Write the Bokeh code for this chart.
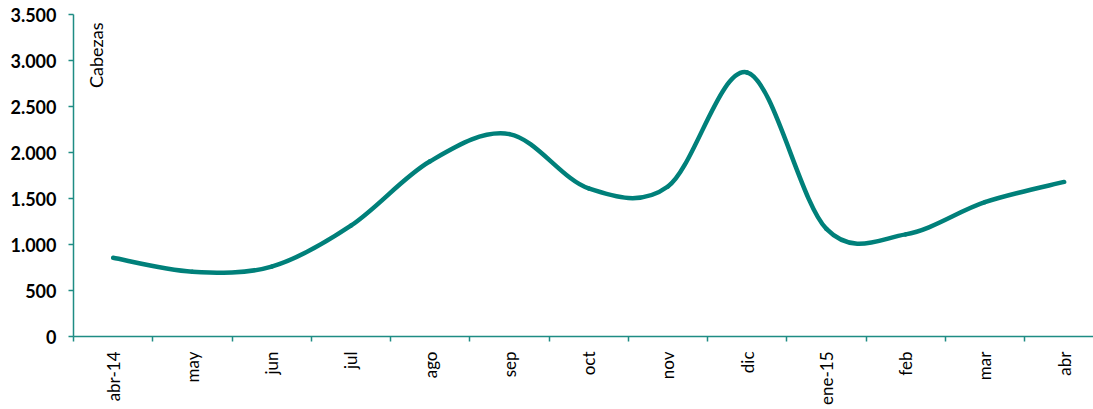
import numpy as np
from bokeh.plotting import figure
from bokeh.models import FixedTicker, Range1d, Label
from bokeh.embed import file_html
from bokeh.resources import INLINE

months = ["abr-14", "may", "jun", "jul", "ago", "sep", "oct", "nov", "dic",
          "ene-15", "feb", "mar", "abr"]
cabezas = [855, 705, 760, 1205, 1905, 2200, 1610, 1630, 2870, 1170, 1110, 1460, 1680]
y_ticks = [0, 500, 1000, 1500, 2000, 2500, 3000, 3500]

TEAL = "#00807A"
AXIS = "#1E8C84"
FONT = "Lato"

p = figure(width=1093, height=409, output_backend="svg", toolbar_location=None,
           x_range=Range1d(-0.5, 12.37), y_range=Range1d(0, 3500),
           min_border_left=73, min_border_right=0, min_border_top=14, min_border_bottom=73)
p.outline_line_color = None
p.xgrid.visible = False
p.ygrid.visible = False

# smooth curve (Catmull-Rom as cubic Bezier through the data points)
xs = np.arange(len(months), dtype=float)
ys = np.array(cabezas, dtype=float)
px = np.concatenate([[xs[0]], xs, [xs[-1]]])
py = np.concatenate([[ys[0]], ys, [ys[-1]]])
n = len(xs) - 1
x0 = xs[:-1]; y0 = ys[:-1]; x1 = xs[1:]; y1 = ys[1:]
cx0 = px[1:n+1] + (px[2:n+2] - px[0:n]) / 6
cy0 = py[1:n+1] + (py[2:n+2] - py[0:n]) / 6
cx1 = px[2:n+2] - (px[3:n+3] - px[1:n+1]) / 6
cy1 = py[2:n+2] - (py[3:n+3] - py[1:n+1]) / 6
p.bezier(x0=x0, y0=y0, x1=x1, y1=y1, cx0=cx0, cy0=cy0, cx1=cx1, cy1=cy1,
         line_color=TEAL, line_width=4.5, line_cap="round")

# x axis
xa = p.xaxis[0]
xa.ticker = FixedTicker(ticks=list(range(len(months))),
                        minor_ticks=[i - 0.5 for i in range(len(months) + 1)])
xa.major_label_overrides = {i: m for i, m in enumerate(months)}
xa.major_label_orientation = np.pi / 2
xa.major_tick_out = 0
xa.major_tick_in = 0
xa.minor_tick_out = 5
xa.minor_tick_in = 0
xa.minor_tick_line_color = AXIS
xa.minor_tick_line_width = 1.5
xa.axis_line_color = AXIS
xa.axis_line_width = 1.5
xa.major_label_text_font = FONT
xa.major_label_text_font_size = "17px"
xa.major_label_text_color = "#000000"
xa.major_label_standoff = 10

# y axis
ya = p.yaxis[0]
ya.ticker = FixedTicker(ticks=y_ticks)
ya.major_label_overrides = {t: f"{t:,}".replace(",", ".") for t in y_ticks}
ya.major_tick_out = 5
ya.major_tick_in = 0
ya.minor_tick_line_color = None
ya.major_tick_line_color = AXIS
ya.major_tick_line_width = 1.5
ya.axis_line_color = AXIS
ya.axis_line_width = 1.5
ya.major_label_text_font = FONT
ya.major_label_text_font_size = "18px"
ya.major_label_text_font_style = "bold"
ya.major_label_text_color = "#000000"
ya.major_label_standoff = 12

p.add_layout(Label(x=-0.22, y=3413, text="Cabezas", angle=np.pi / 2,
                   text_align="right", text_baseline="middle",
                   text_font=FONT, text_font_size="18px", text_color="#000000"))

open("out.html", "w").write(file_html(p, INLINE))
